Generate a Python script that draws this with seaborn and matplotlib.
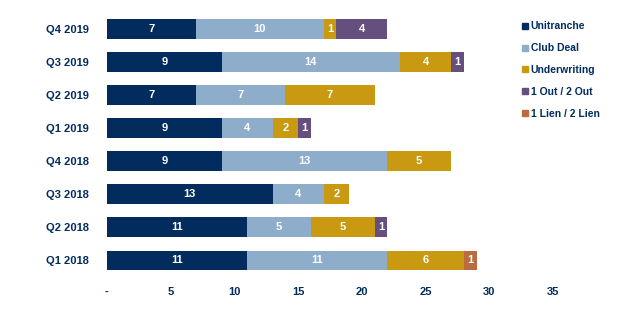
import numpy as np
import pandas as pd
import matplotlib
matplotlib.use("Agg")
import matplotlib.pyplot as plt
import seaborn as sns
from matplotlib.lines import Line2D

quarters = ["Q4 2019", "Q3 2019", "Q2 2019", "Q1 2019",
            "Q4 2018", "Q3 2018", "Q2 2018", "Q1 2018"]
series = ["Unitranche", "Club Deal", "Underwriting", "1 Out / 2 Out", "1 Lien / 2 Lien"]
unitranche = [7, 9, 7, 9, 9, 13, 11, 11]
club_deal = [10, 14, 7, 4, 13, 4, 5, 11]
underwriting = [1, 4, 7, 2, 5, 2, 5, 6]
one_out_two_out = [4, 1, 0, 1, 0, 0, 1, 0]
lien = [0, 0, 0, 0, 0, 0, 0, 1]
tick_values = [0, 5, 10, 15, 20, 25, 30, 35]
tick_labels = ["-", "5", "10", "15", "20", "25", "30", "35"]

colors = ["#022B5E", "#8DADCB", "#C99912", "#644F7E", "#BA6B3F"]
navy = "#022B5E"

sns.set_theme(style="white")
plt.rcParams["font.family"] = ["Liberation Sans", "DejaVu Sans"]

values = np.array([unitranche, club_deal, underwriting, one_out_two_out, lien], dtype=float)
cum = values.cumsum(axis=0)

fig = plt.figure(figsize=(6.32, 3.24), dpi=100)
ax = fig.add_axes([107 / 632, 1 - 277 / 324, 446 / 632, 265 / 324])

# stacked bars: draw cumulative totals from the outermost segment inward
for i in range(len(series) - 1, -1, -1):
    df = pd.DataFrame({"quarter": quarters, "total": cum[i]})
    sns.barplot(data=df, x="total", y="quarter", order=quarters, orient="h",
                color=colors[i], width=0.6, saturation=1, ax=ax,
                edgecolor="none", linewidth=0)

for i in range(len(series)):
    for j, q in enumerate(quarters):
        v = values[i, j]
        if v > 0:
            ax.text(cum[i, j] - v / 2, j, f"{int(v)}", ha="center", va="center",
                    color="white", fontsize=8, fontweight="bold")

ax.set_xlim(0, 35)
ax.set_ylim(7.5, -0.5)
ax.set_xticks(tick_values)
ax.set_xticklabels(tick_labels)
ax.set_xlabel("")
ax.set_ylabel("")
for s in ax.spines.values():
    s.set_visible(False)
ax.tick_params(axis="x", length=0, pad=7, labelsize=8, labelcolor=navy)
ax.tick_params(axis="y", length=0, pad=13, labelsize=8, labelcolor=navy)
for lab in ax.get_xticklabels() + ax.get_yticklabels():
    lab.set_fontweight("bold")

handles = [Line2D([0], [0], marker="s", linestyle="none", markersize=5,
                  markerfacecolor=c, markeredgecolor=c) for c in colors]
leg = fig.legend(handles, series, loc="upper left", bbox_to_anchor=(517 / 632, 1 - 17 / 324),
                 frameon=False, fontsize=7.5, handletextpad=0.1, labelspacing=1.15,
                 handlelength=0.8, borderaxespad=0)
for t in leg.get_texts():
    t.set_color(navy)
    t.set_fontweight("bold")

fig.savefig("out.png", dpi=100)
